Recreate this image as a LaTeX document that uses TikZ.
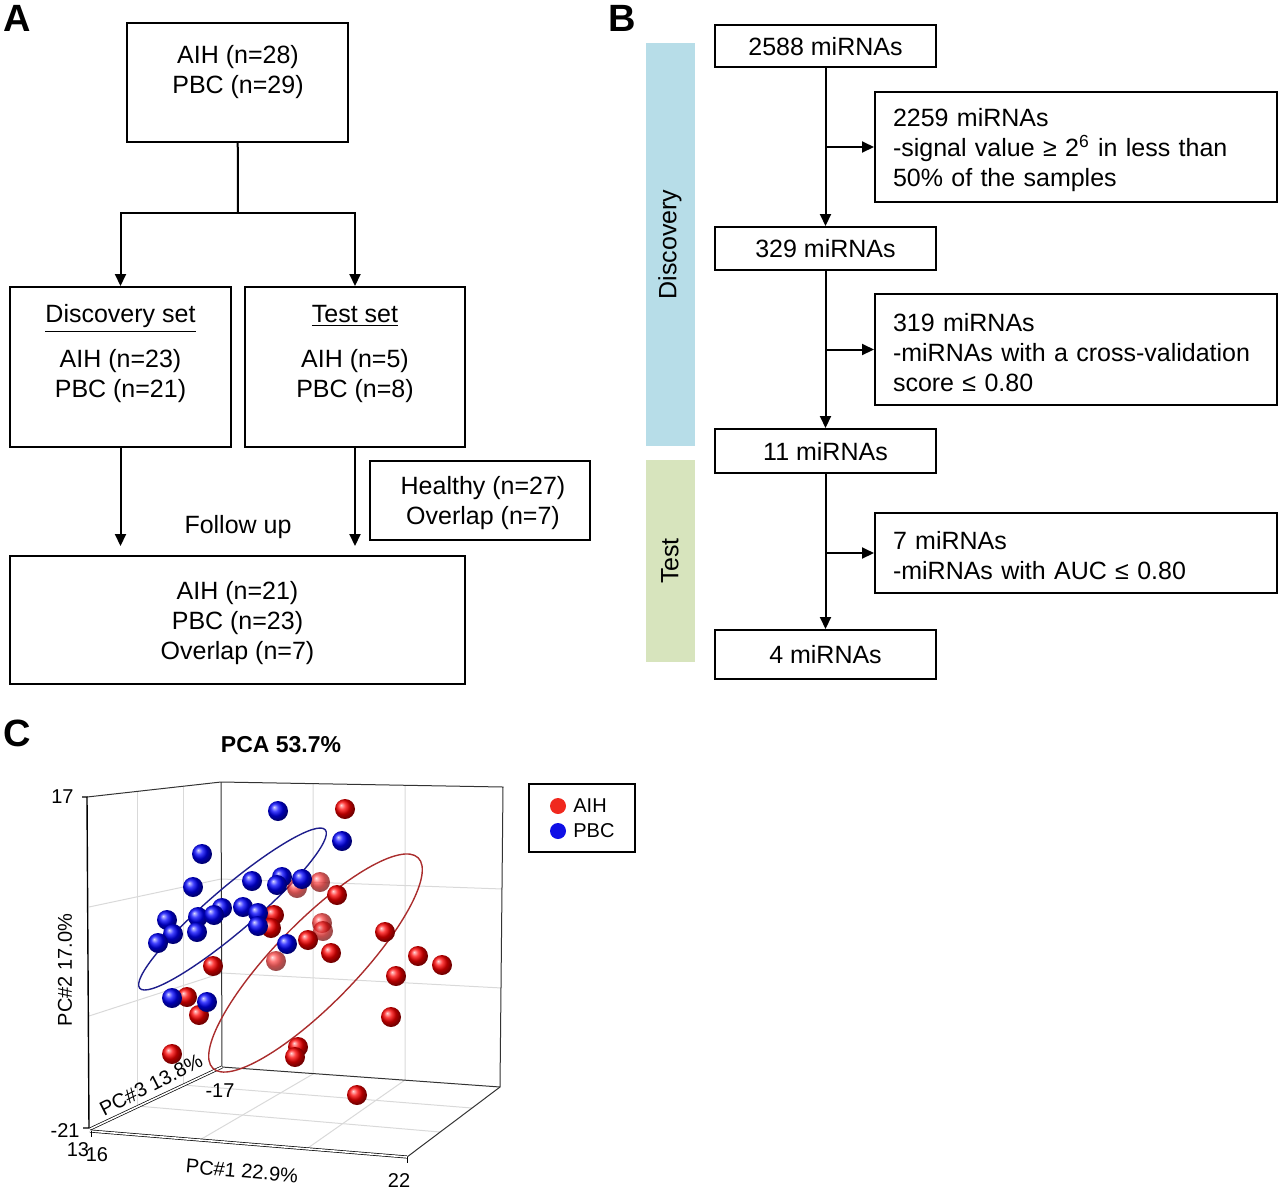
\documentclass[tikz,border=0pt]{standalone}
\usepackage{fontspec}
\setmainfont{Liberation Sans}
\usepackage{xcolor}
\usepackage{tikz}
\usetikzlibrary{positioning, arrows.meta, shapes}

\definecolor{discblue}{RGB}{183,221,232}
\definecolor{testgreen}{RGB}{215,228,189}
\definecolor{aihred}{RGB}{240,40,30}
\definecolor{pbcblue}{RGB}{15,15,230}
\definecolor{ellblue}{RGB}{30,30,140}
\definecolor{ellred}{RGB}{170,45,45}
\newcommand{\flowfont}{\fontsize{12.5}{15}\selectfont}
\newcommand{\pcafont}{\fontsize{10}{12}\selectfont}
\newcommand{\firstline}{\rule{0pt}{12pt}}

\begin{document}
\begin{tikzpicture}[x=0.5pt, y=-0.5pt,
    box/.style={draw, line width=1pt, inner sep=0pt, align=center, text depth=0pt, font=\flowfont},
    txt/.style={inner sep=0pt, align=center, font=\flowfont},
    side/.style={draw, line width=1pt, text width=183pt, inner xsep=9pt, inner ysep=0pt, align=left, font=\flowfont},
    arr/.style={line width=1pt, -{Triangle[length=6pt, width=5.5pt]}},
    link/.style={line width=1pt},
    phase/.style={rotate=90, inner sep=0pt, font=\flowfont},
    panel/.style={inner sep=0pt, font=\fontsize{19}{22}\selectfont\bfseries},
    grid3d/.style={gray!30, line width=0.5pt},
    frame3d/.style={black!80, line width=0.5pt},
    axis3d/.style={draw=black, double=white, double distance=0.8pt, line width=0.35pt},
    ticklbl/.style={inner sep=0pt, font=\pcafont},
    aih/.style={ball color=red},
    pbc/.style={ball color=blue}]
\useasboundingbox (0,0) rectangle (1280,1190);

% ---- A: cohorts
\node[panel] (lblA) at (17,18) {A};
\node[box, minimum width=110.5pt, minimum height=59.5pt] (all) at (237.5,82.5) {};
\node[txt] (alltxt) at (238,72) {AIH (n=28)\\PBC (n=29)};
\node[box, minimum width=110.5pt, minimum height=80pt] (disc) at (120.5,367) {};
\node[txt] (disctxt) at (120.5,354) {\underline{Discovery set}\\[7.5pt]AIH (n=23)\\PBC (n=21)};
\node[box, minimum width=110pt, minimum height=80pt] (test) at (355,367) {};
\node[txt] (testtxt) at (355,354) {\underline{Test set}\\[7.5pt]AIH (n=5)\\PBC (n=8)};
\node[box, minimum width=110pt, minimum height=39.5pt] (healthy) at (480,500.5) {\hspace*{3pt}Healthy (n=27)\\\hspace*{3pt}Overlap (n=7)};
\node[box, minimum width=227.5pt, minimum height=64pt] (follow) at (237.5,620) {AIH (n=21)\\PBC (n=23)\\Overlap (n=7)};
\node[txt] (fu) at (238,527) {Follow up};

\coordinate (split) at (238,213);
\draw[link] (all) -- (split);
\draw[arr] (split) -| (disc);
\draw[arr] (split) -| (test);
\draw[arr, shorten >=4.5pt] (disc) -- (disc |- follow.north);
\draw[arr, shorten >=4.5pt] (test) -- (test |- follow.north);

% ---- B: miRNA selection
\node[panel] (lblB) at (622,18) {B};
\node[phase, fill=discblue, minimum width=201.5pt, minimum height=24.5pt] (discbar) at (670,244.5) {Discovery};
\node[phase, fill=testgreen, minimum width=101pt, minimum height=24.5pt] (testbar) at (670,561) {Test};

\node[box, minimum width=110.5pt, minimum height=21pt] (m2588) at (825.5,46) {2588 miRNAs};
\node[box, minimum width=110.5pt, minimum height=21.5pt] (m329) at (825.5,248.5) {329 miRNAs};
\node[box, minimum width=110.5pt, minimum height=22pt] (m11) at (825.5,451) {11 miRNAs};
\node[box, minimum width=110.5pt, minimum height=24.5pt] (m4) at (825.5,654.5) {4 miRNAs};

\node[side, minimum height=55pt] (ex2259) at (1076,147) {\firstline 2259 miRNAs\\-signal value ≥ 2\textsuperscript{6} in less than\\50\% of the samples};
\node[side, minimum height=55.5pt] (ex319) at (1076,349.5) {\firstline 319 miRNAs\\-miRNAs with a cross-validation\\score ≤ 0.80};
\node[side, minimum height=40pt] (ex7) at (1076,553) {\firstline 7 miRNAs\\-miRNAs with AUC ≤ 0.80};

\draw[arr] (m2588) -- (m329);
\draw[arr] (m329) -- (m11);
\draw[arr] (m11) -- (m4);
\draw[arr] (m2588 |- ex2259) -- (ex2259);
\draw[arr] (m329 |- ex319) -- (ex319);
\draw[arr] (m11 |- ex7) -- (ex7);

% ---- C: PCA plot
\node[panel] (lblC) at (17,733) {C};
\node[inner sep=0pt, font=\fontsize{11.5}{14}\selectfont\bfseries] (title) at (281,745) {PCA 53.7\%};

% grid
\draw[grid3d] (137,791) -- (137,1106) (183,786) -- (183,1085);
\draw[grid3d] (89,907) -- (221,879) -- (503,889);
\draw[grid3d] (89,1016) -- (222,973) -- (502,988);
\draw[grid3d] (313,784) -- (313,1074) -- (198,1141);
\draw[grid3d] (405,786) -- (405,1080) -- (305,1150);
\draw[grid3d] (137,1106) -- (440,1132);
\draw[grid3d] (183,1085) -- (472,1108);

% box
\coordinate (ltop) at (87,797);
\coordinate (lbot) at (89,1128);
\coordinate (ctop) at (221,782);
\coordinate (cbot) at (222,1067);
\coordinate (rtop) at (503,787);
\coordinate (rbot) at (500,1087);
\coordinate (xend) at (407,1157);
\draw[frame3d] (ltop) -- (ctop) -- (rtop) -- (rbot) -- (xend);
\draw[frame3d] (ctop) -- (cbot) -- (rbot);
\draw[line width=0.7pt] (82,797) -- (ltop) -- (lbot) -- (83,1128);
\draw[axis3d] (90,1129) -- (cbot);
\draw[axis3d] (90,1131) -- (xend);
\draw[line width=0.5pt] (91,1131) -- (91,1137) (xend) -- (407,1163);

\node[ticklbl, anchor=east] (t17) at (74,797) {17};
\node[ticklbl, anchor=east] (tm21) at (80,1130) {-21};
\node[ticklbl] (t13) at (78,1150) {13};
\node[ticklbl] (t16) at (97,1155) {16};
\node[ticklbl] (tm17) at (220,1091) {-17};
\node[ticklbl] (t22) at (399,1180) {22};
\node[ticklbl, rotate=-5] (pc1) at (242,1171) {PC\#1 22.9\%};
\node[ticklbl, rotate=90] (pc2) at (65,970) {PC\#2 17.0\%};
\node[ticklbl, rotate=27] (pc3) at (151,1085) {PC\#3 13.8\%};

% ellipses
\draw[ellblue, line width=0.7pt, rotate around={40.5:(232.5,909)}] (232.5,909) ellipse (122 and 22);
\draw[ellred, line width=0.7pt, rotate around={45.7:(315.5,963)}] (315.5,963) ellipse (147 and 41);

% samples
\foreach \x/\y in {320/882, 297/888, 322/923, 323/931, 276/961}
  \shade[aih, opacity=0.7] (\x,\y) circle (5pt);
\foreach \x/\y in {345/809, 337/895, 274/915, 271/928, 308/940, 331/953, 213/966,
                   187/997, 199/1015, 172/1054, 385/932, 418/956, 442/965, 396/976,
                   391/1017, 298/1047, 295/1057, 357/1095}
  \shade[aih] (\x,\y) circle (5pt);
\foreach \x/\y in {278/811, 342/841, 202/854, 193/887, 252/881, 282/877, 277/885,
                   302/879, 167/920, 173/934, 158/943, 198/917, 197/932, 222/908,
                   214/915, 243/907, 258/913, 258/926, 287/944, 172/998, 207/1002}
  \shade[pbc] (\x,\y) circle (5pt);

% legend
\node[draw, line width=1pt, minimum width=53pt, minimum height=34pt] (legend) at (582,818) {};
\fill[aihred] (558,806) circle (4pt);
\node[ticklbl, anchor=west] (laih) at (573,806) {AIH};
\fill[pbcblue] (558,831) circle (4pt);
\node[ticklbl, anchor=west] (lpbc) at (573,831) {PBC};
\end{tikzpicture}
\end{document}
